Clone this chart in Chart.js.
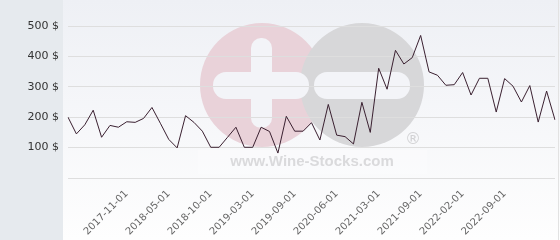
<!DOCTYPE html>
<html>
<head>
<meta charset="utf-8">
<script src="https://cdn.jsdelivr.net/npm/chart.js@4/dist/chart.umd.min.js"></script>
<style>
html,body{margin:0;padding:0;background:#fff;}
#wrap{width:560px;height:240px;position:relative;}
</style>
</head>
<body>
<div id="wrap"><canvas id="c" width="560" height="240"></canvas></div>
<script>
const dates = [
  "2017-04-01","2017-05-01","2017-06-01","2017-07-01","2017-08-01","2017-09-01","2017-10-01",
  "2017-11-01","2017-12-01","2018-01-01","2018-02-01","2018-03-01",
  "2018-05-01","2018-06-01","2018-07-01","2018-08-01","2018-09-01",
  "2018-10-01","2018-11-01","2018-12-01","2019-01-01","2019-02-01",
  "2019-03-01","2019-04-01","2019-05-01","2019-06-01","2019-07-01",
  "2019-09-01","2019-10-01","2019-11-01","2020-01-01","2020-03-01",
  "2020-06-01","2020-07-01","2020-09-01","2020-11-01","2021-01-01",
  "2021-03-01","2021-04-01","2021-05-01","2021-06-01","2021-07-01",
  "2021-09-01","2021-10-01","2021-11-01","2021-12-01","2022-01-01",
  "2022-02-01","2022-03-01","2022-05-01","2022-06-01","2022-07-01",
  "2022-09-01","2022-10-01","2022-11-01","2022-12-01","2023-01-01","2023-02-01","2023-03-01"
];
const prices = [
  200,145,175,223,134,173,167,
  185,183,196,232,180,
  127,99,205,183,154,
  101,101,134,167,101,
  101,167,153,82,203,
  154,154,182,125,242,
  141,136,112,249,150,
  361,292,420,375,396,
  469,349,338,305,307,
  347,273,328,328,217,
  327,302,250,304,184,286,191
];
const shownTicks = ["2017-11-01","2018-05-01","2018-10-01","2019-03-01","2019-09-01",
  "2020-06-01","2021-03-01","2021-09-01","2022-02-01","2022-09-01"];
const yTicks = [100,200,300,400,500];
const currency = "$";
const watermarkText = "www.Wine-Stocks.com";

const bgPlugin = {
  id: 'bg',
  beforeDraw(chart) {
    const ctx = chart.ctx;
    const W = chart.width, H = chart.height;
    ctx.save();
    ctx.fillStyle = '#e6eaee';
    ctx.fillRect(0, 0, 63, H);
    const g = ctx.createLinearGradient(0, 0, 0, H);
    g.addColorStop(0, '#eef0f5');
    g.addColorStop(1, '#fefefe');
    ctx.fillStyle = g;
    ctx.fillRect(63, 0, W - 63, H);
    // watermark
    const cy = 85, r = 62;
    ctx.fillStyle = '#e9d2d9';
    ctx.beginPath(); ctx.arc(262, cy, r, 0, Math.PI * 2); ctx.fill();
    ctx.fillStyle = '#d7d7d9';
    ctx.beginPath(); ctx.arc(362, cy, r, 0, Math.PI * 2); ctx.fill();
    ctx.fillStyle = '#f3f4f8';
    function rr(x, y, w, h, rad) {
      ctx.beginPath();
      ctx.moveTo(x + rad, y);
      ctx.lineTo(x + w - rad, y);
      ctx.arc(x + w - rad, y + rad, rad, -Math.PI / 2, 0);
      ctx.lineTo(x + w, y + h - rad);
      ctx.arc(x + w - rad, y + h - rad, rad, 0, Math.PI / 2);
      ctx.lineTo(x + rad, y + h);
      ctx.arc(x + rad, y + h - rad, rad, Math.PI / 2, Math.PI);
      ctx.lineTo(x, y + rad);
      ctx.arc(x + rad, y + rad, rad, Math.PI, Math.PI * 1.5);
      ctx.closePath();
      ctx.fill();
    }
    rr(251, 38, 21, 90, 10);
    rr(213, 72, 96, 27, 13);
    rr(314, 72, 96, 27, 13);
    ctx.fillStyle = '#d2d2d4';
    ctx.font = '16px "DejaVu Sans"';
    ctx.textAlign = 'center';
    ctx.textBaseline = 'middle';
    ctx.fillText('\u00AE', 413, 140);
    ctx.fillStyle = 'rgba(255,255,255,0.25)';
    ctx.fillRect(198, 150, 229, 24);
    ctx.fillStyle = '#dadadc';
    ctx.font = 'bold 15px "Liberation Sans"';
    ctx.fillText(watermarkText, 312, 162);
    ctx.strokeStyle = '#e2e2e2';
    ctx.lineWidth = 1;
    ctx.beginPath(); ctx.moveTo(558.5, 0); ctx.lineTo(558.5, H); ctx.stroke();
    ctx.restore();
  }
};

new Chart(document.getElementById('c'), {
  type: 'line',
  data: {
    labels: dates,
    datasets: [{
      data: prices,
      borderColor: '#3a2030',
      borderWidth: 1,
      pointRadius: 0,
      tension: 0,
      fill: false
    }]
  },
  options: {
    responsive: false,
    animation: false,
    devicePixelRatio: 1,
    layout: { padding: { top: 26, right: 5, left: 0, bottom: 0 } },
    plugins: { legend: { display: false }, tooltip: { enabled: false } },
    scales: {
      x: {
        offset: false,
        grid: { display: false },
        border: { display: false },
        afterFit(s) { s.height = 62; },
        ticks: {
          autoSkip: false,
          minRotation: 45,
          maxRotation: 45,
          padding: 2,
          color: '#666',
          font: { family: 'DejaVu Sans', size: 10 },
          callback: function (v) {
            const l = this.getLabelForValue(v);
            return shownTicks.includes(l) ? l : null;
          }
        }
      },
      y: {
        min: 0,
        max: 500,
        afterFit(s) { s.width = 68; },
        afterBuildTicks(s) { s.ticks = [0].concat(yTicks).map(v => ({ value: v })); },
        grid: { color: '#dedede', drawTicks: false, lineWidth: 1 },
        border: { display: false },
        ticks: {
          padding: 9,
          color: '#333',
          font: { family: 'DejaVu Sans', size: 11 },
          callback: v => (v === 0 ? '' : v + ' ' + currency)
        }
      }
    }
  },
  plugins: [bgPlugin]
});
</script>
</body>
</html>
